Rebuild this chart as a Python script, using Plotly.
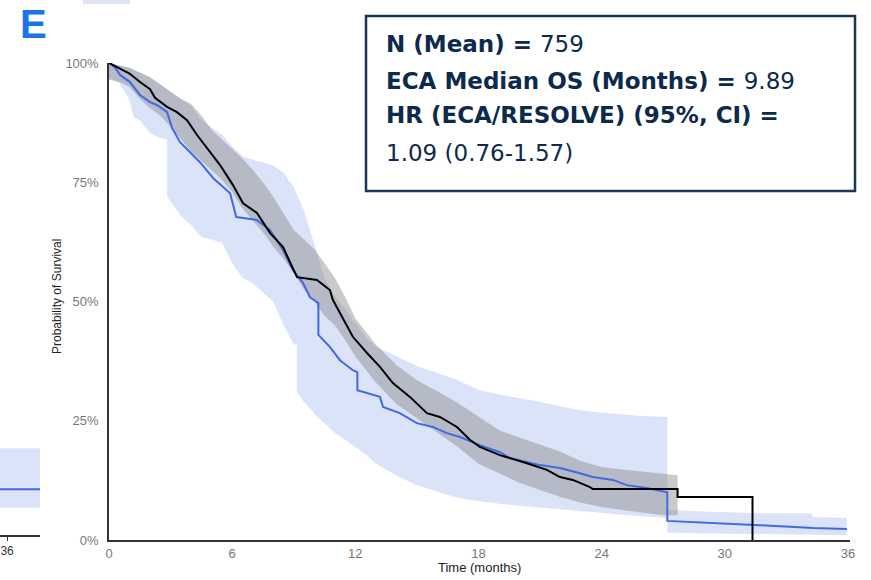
import plotly.graph_objects as go

W, H = 871, 580

# ---------------- data ----------------
# ECA Kaplan-Meier curve (black), survival in %
eca_t = [0, 0.54, 1.0, 1.51, 2.0, 2.24, 2.83, 3.31, 3.8, 4.29, 4.92, 5.41, 6.04, 6.53,
         7.2, 7.84, 8.48, 9.16, 10.13, 10.76, 10.91, 11.4, 11.88, 12.57, 13.2, 13.83,
         14.66, 15.49, 16.12, 16.95, 17.58, 18.07, 19.04, 20.36, 21.33, 21.97, 22.6,
         23.43, 23.57, 27.7, 27.7, 31.35, 31.35]
eca_s = [100, 98.9, 97.8, 96, 94.5, 92.7, 90.8, 89.7, 88, 84.9, 81.3, 78.6, 74.4, 70.6,
         68.6, 64.4, 61.4, 55.1, 54.5, 52.4, 50.3, 46.5, 42.6, 39.2, 36.3, 32.9,
         30, 26.6, 25.8, 23.7, 21, 19.5, 17.8, 16.1, 14.7, 13.2, 12.6,
         11.1, 10.7, 10.7, 9.0, 9.0, 0]

# RESOLVE Kaplan-Meier curve (blue), survival in %
res_t = [0, 0.3, 0.54, 1.02, 1.51, 2.0, 2.34, 2.83, 3.07, 3.46, 3.95, 4.43, 5.07, 5.9, 6.2,
         7.2, 7.84, 8.48, 8.96, 9.45, 9.79, 10.2, 10.2, 10.76, 11.25, 11.88, 12.1, 12.1,
         13.2, 13.35, 14.17, 15.0, 15.78, 16.46, 17.1, 18.07, 19.04, 19.53, 21.0, 21.97,
         22.94, 23.57, 24.55, 25.23, 26.2, 27.2, 27.2, 29.4, 31.7, 34.3, 35.95]
res_s = [100, 99, 97.5, 96, 93.3, 91.8, 91.2, 89.7, 86.4, 83.4, 81.3, 79.2, 75.9, 72.7, 67.7,
         67.1, 65, 60.8, 56.6, 53.9, 50.9, 49.7, 43, 40.5, 37.7, 35.6, 35.2, 31.4,
         30, 27.9, 26.6, 24.5, 23.7, 22.4, 21.6, 19.9, 18.4, 17.2, 15.7, 15.1,
         14.0, 13.2, 12.6, 11.5, 10.9, 10.0, 4.0, 3.6, 3.1, 2.5, 2.3]

# ECA 95% CI (grey band)
eca_ci_t = [0, 0.5, 1, 1.5, 2, 2.5, 3, 3.5, 4, 4.5, 5, 5.5, 6, 6.5, 7, 7.5, 8, 8.5, 9, 9.5,
            10, 10.5, 11, 11.5, 12, 13, 14, 15, 16, 17, 18, 19, 20, 21, 22, 23, 24, 25,
            26, 27, 27.7]
eca_ci_hi = [100, 99.5, 99, 98, 97, 95.5, 94, 92.5, 91.4, 89, 86, 84, 82, 80, 77.6, 75, 72,
             68.5, 65, 63, 61, 58, 55, 51, 46.5, 41, 36.7, 33.5, 31.2, 28.7, 25.8, 23,
             21.5, 20, 18.5, 16.5, 15.3, 14.8, 14.3, 13.8, 13.6]
eca_ci_lo = [96.5, 96, 95, 92.5, 90.5, 89, 86.6, 84, 81.5, 79.5, 77.5, 75.5, 73, 69.5, 67,
             64.5, 61.5, 59, 56, 52.5, 50, 47, 45, 42, 38.5, 33, 28.5, 25.5, 22.5, 19.5,
             16, 14, 12, 10.5, 9.0, 7.8, 6.9, 6.3, 5.8, 5.2, 5.2]

# RESOLVE 95% CI (light blue band)
res_hi_t = [0, 0.5, 1.0, 1.5, 2.0, 2.5, 2.83, 3.5, 4.0, 4.5, 5.0, 5.5, 6.0, 6.5, 7.0,
            7.5, 8.0, 8.5, 9.0, 9.2, 9.5, 10.0, 10.5, 11.0, 11.5, 12.0, 12.5, 13.0, 13.5,
            14.0, 15.0, 16.0, 17.0, 18.0, 19.0, 20.0, 21.0, 22.0, 23.0, 24.0, 25.0, 26.0,
            27.2, 27.2, 29.4, 31.7, 34.2, 34.3, 35.95]
res_ci_hi = [100, 99.5, 99, 98, 97, 95.5, 94.5, 92.5, 91, 88, 86.5, 85, 82.5, 80.5, 79.7,
             79.2, 78.5, 77, 74, 72, 69, 62, 55, 51, 48.5, 45.5, 42.5, 40.5, 39.5,
             38.4, 36.5, 35, 33.5, 31.5, 30.5, 29.7, 29, 28, 27.2, 26.7, 26.3, 26,
             25.8, 6.3, 5.9, 5.6, 5.6, 4.8, 4.6]
res_lo_t = [0, 0.5, 1.0, 1.2, 1.5, 2.0, 2.5, 2.83, 2.83, 3.5, 4.0, 4.5, 5.0, 5.5, 6.0, 6.5,
            7.0, 7.5, 8.0, 8.5, 9.0, 9.15, 9.15, 9.5, 10.0, 10.5, 11.0, 11.5, 12.0, 12.5,
            13.0, 13.5, 14.0, 15.0, 16.0, 17.0, 18.0, 19.0, 20.0, 21.0, 22.0, 23.0, 24.0,
            25.0, 26.0, 27.2, 27.2, 29.4, 31.7, 34.3, 35.95]
res_ci_lo = [97, 95.8, 92.2, 88.7, 88, 85.3, 84.2, 84, 72, 68, 66, 63.5, 63, 62.3, 58, 55,
             53.8, 52, 50, 45, 41, 41, 31, 29, 26.5, 24.5, 22.5, 21, 19.5, 18,
             16, 14.8, 13.5, 11.5, 10.2, 8.8, 8.2, 7.6, 7.2, 6.8, 6.5, 6.0, 5.6,
             5.3, 5.0, 4.6, 1.5, 1.4, 1.3, 1.1, 1.0]

# fragment of the neighbouring panel on the left
side_t = [35.2, 39.7]
side_s = [9.6, 9.6]
side_lo = [5.7, 5.7]
side_hi = [18.2, 18.2]

x_ticks = [0, 6, 12, 18, 24, 30, 36]
y_ticks = [0, 25, 50, 75, 100]
y_tick_text = ["0%", "25%", "50%", "75%", "100%"]
x_title = "Time (months)"
y_title = "Probability of Survival"

info_lines = [
    "<b>N (Mean) = </b>759",
    "<b>ECA Median OS (Months) = </b>9.89",
    "<b>HR (ECA/RESOLVE) (95%, CI) =</b>",
    "1.09 (0.76-1.57)",
]

# ---------------- styling ----------------
BLUE = "#4169E1"
BLUE_FILL = "rgba(65,105,225,0.19)"
GREY_FILL = "rgba(128,128,128,0.42)"
NAVY = "#0c2a4b"
PANEL_BLUE = "#1a73e8"
SANS = "Liberation Sans, Arial, sans-serif"

def px_x(p):
    return p / W

def px_y(p):
    return 1 - p / H

fig = go.Figure()

# RESOLVE CI band
fig.add_trace(go.Scatter(x=res_lo_t, y=res_ci_lo, mode="lines", line=dict(width=0),
                         hoverinfo="skip", showlegend=False))
fig.add_trace(go.Scatter(x=res_hi_t, y=res_ci_hi, mode="lines", line=dict(width=0),
                         fill="tonexty", fillcolor=BLUE_FILL, hoverinfo="skip", showlegend=False))
# ECA CI band
fig.add_trace(go.Scatter(x=eca_ci_t, y=eca_ci_lo, mode="lines", line=dict(width=0),
                         hoverinfo="skip", showlegend=False))
fig.add_trace(go.Scatter(x=eca_ci_t, y=eca_ci_hi, mode="lines", line=dict(width=0),
                         fill="tonexty", fillcolor=GREY_FILL, hoverinfo="skip", showlegend=False))
# curves
fig.add_trace(go.Scatter(x=res_t, y=res_s, mode="lines", line=dict(color=BLUE, width=2),
                         name="RESOLVE", showlegend=False))
fig.add_trace(go.Scatter(x=eca_t, y=eca_s, mode="lines", line=dict(color="black", width=2),
                         name="ECA", showlegend=False))

# left fragment panel
fig.add_trace(go.Scatter(x=side_t, y=side_lo, mode="lines", line=dict(width=0),
                         xaxis="x2", yaxis="y2", hoverinfo="skip", showlegend=False))
fig.add_trace(go.Scatter(x=side_t, y=side_hi, mode="lines", line=dict(width=0), fill="tonexty",
                         fillcolor=BLUE_FILL, xaxis="x2", yaxis="y2", hoverinfo="skip", showlegend=False))
fig.add_trace(go.Scatter(x=side_t, y=side_s, mode="lines", line=dict(color=BLUE, width=2),
                         xaxis="x2", yaxis="y2", showlegend=False))

tick_font = dict(family=SANS, size=13, color="#777777")

fig.update_layout(
    width=W, height=H,
    margin=dict(l=0, r=0, t=0, b=0, autoexpand=False),
    paper_bgcolor="white", plot_bgcolor="white",
    showlegend=False,
    xaxis=dict(domain=[px_x(109), px_x(850)], range=[0, 36.1], tickvals=x_ticks,
               showline=True, linecolor="#333333", linewidth=1.5, showgrid=False, zeroline=False,
               ticks="outside", ticklen=1, tickcolor="rgba(0,0,0,0)", tickfont=tick_font,
               automargin=False, anchor="y"),
    yaxis=dict(domain=[px_y(540), px_y(63)], range=[0, 100], tickvals=y_ticks, ticktext=y_tick_text,
               showline=True, linecolor="#333333", linewidth=1.5, showgrid=False, zeroline=False,
               ticks="outside", ticklen=6, tickcolor="rgba(0,0,0,0)", tickfont=tick_font,
               automargin=False, anchor="x"),
    xaxis2=dict(domain=[0, px_x(40)], range=[35.2, 39.7], tickvals=[36], anchor="y2",
                showline=True, linecolor="#333333", linewidth=1.5, showgrid=False, zeroline=False,
                ticks="outside", ticklen=4, tickcolor="#333333", automargin=False,
                ticklabeloverflow="allow",
                tickfont=dict(family=SANS, size=12, color="#333333")),
    yaxis2=dict(domain=[px_y(535), px_y(58)], range=[0, 100], anchor="x2", visible=False,
                automargin=False),
)

# axis titles
fig.add_annotation(text=x_title, xref="paper", yref="paper", x=px_x(479), y=px_y(567),
                   xanchor="center", yanchor="middle", showarrow=False,
                   font=dict(family=SANS, size=13, color="#222222"))
fig.add_annotation(text=y_title, xref="paper", yref="paper", x=px_x(57), y=px_y(297),
                   xanchor="center", yanchor="middle", showarrow=False, textangle=-90,
                   font=dict(family=SANS, size=12, color="#222222"))

# annotation box
fig.add_shape(type="rect", xref="paper", yref="paper",
              x0=px_x(366), x1=px_x(855), y0=px_y(191), y1=px_y(16),
              line=dict(color="#1b3556", width=2.5), fillcolor="white", layer="above")
# fragment of panel above
fig.add_shape(type="rect", xref="paper", yref="paper",
              x0=px_x(83), x1=px_x(130), y0=px_y(4), y1=1,
              line=dict(width=0), fillcolor="#dfe5f7", layer="below")

line_centers = [44, 81, 115, 153]
for txt, yc in zip(info_lines, line_centers):
    fig.add_annotation(text=txt, xref="paper", yref="paper", x=px_x(384), y=px_y(yc),
                       xanchor="left", yanchor="middle", showarrow=False,
                       font=dict(family="DejaVu Sans, sans-serif", size=23, color=NAVY))

# panel letters
fig.add_annotation(text="<b>E</b>", xref="paper", yref="paper", x=px_x(33), y=1,
                   xanchor="center", yanchor="top", showarrow=False,
                   font=dict(family=SANS, size=40, color=PANEL_BLUE))
fig.add_annotation(text="<b>H</b>", xref="paper", yref="paper", x=px_x(36), y=px_y(571),
                   xanchor="center", yanchor="top", showarrow=False,
                   font=dict(family=SANS, size=42, color=PANEL_BLUE))

fig.write_html("out.html")
